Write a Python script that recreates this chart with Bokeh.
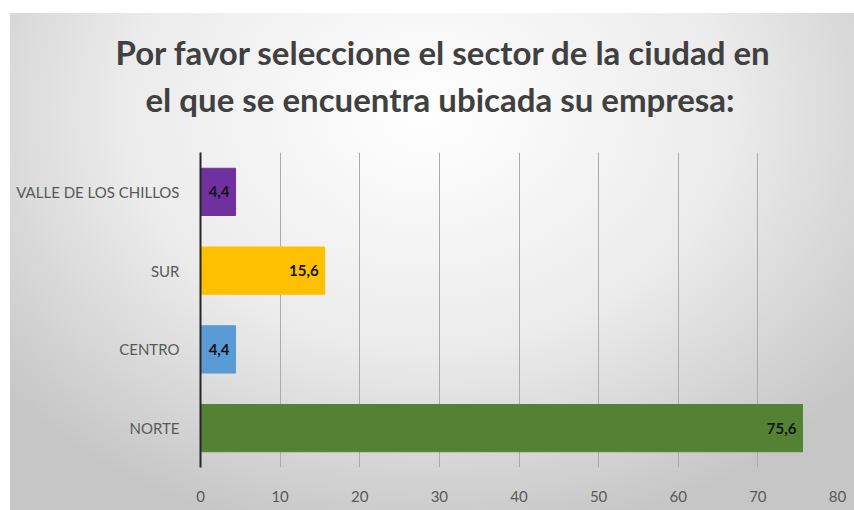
from bokeh.plotting import figure
from bokeh.models import ColumnDataSource, Range1d, FactorRange, FixedTicker, Title
from bokeh.core.properties import value
from bokeh.embed import file_html
from bokeh.resources import INLINE

categories = ["NORTE", "CENTRO", "SUR", "VALLE DE LOS CHILLOS"]
values = [75.6, 4.4, 15.6, 4.4]
colors = ["#548235", "#5B9BD5", "#FFC000", "#7030A0"]
x_ticks = [0, 10, 20, 30, 40, 50, 60, 70, 80]
title_line1 = "Por favor seleccione el sector de la ciudad en"
title_line2 = "el que se encuentra ubicada su empresa:"

labels = [f"{v:.1f}".replace(".", ",") for v in values]
src = ColumnDataSource(dict(cat=categories, val=values, color=colors, label=labels))

p = figure(width=854, height=510, output_backend="svg", toolbar_location=None,
           y_range=FactorRange(*categories, range_padding=0),
           x_range=Range1d(0, 80),
           min_border_left=200, min_border_right=17, min_border_bottom=43, min_border_top=152)

p.hbar(y="cat", right="val", left=0, height=0.6, color="color", source=src)
p.text(x="val", y="cat", text="label", source=src, x_offset=-6,
       text_align="right", text_baseline="middle",
       text_font=value("Lato"), text_font_style="bold", text_font_size="15px",
       text_color="#141414")

title_style = dict(align="left", text_font="Lato", text_font_style="bold",
                   text_font_size="33px", text_color="#404040")
try:
    t1 = Title(text=title_line1, standoff=-57, offset=-85, **title_style)
    s2 = 67
except Exception:
    t1 = Title(text=title_line1, standoff=0, offset=-85, **title_style)
    s2 = 52
p.title = t1
p.add_layout(Title(text=title_line2, standoff=s2, offset=-55, **title_style), "above")

p.background_fill_color = None
p.border_fill_color = None
p.outline_line_color = None
p.styles = {"background": (
    "linear-gradient(#ffffff, #ffffff) top left / 100% 13px no-repeat, "
    "linear-gradient(#ffffff, #ffffff) top left / 10px 100% no-repeat, "
    "radial-gradient(ellipse 65% 85% at 50% 22%, #ffffff 0%, #ebebeb 55%, #c6c6c6 100%)")}

p.xaxis.ticker = FixedTicker(ticks=x_ticks)
p.xaxis.axis_line_color = None
p.xaxis.major_tick_line_color = None
p.xaxis.minor_tick_line_color = None
p.xaxis.major_label_standoff = 17
p.xaxis.major_label_text_font = "Lato"
p.xaxis.major_label_text_font_size = "15px"
p.xaxis.major_label_text_color = "#595959"

p.yaxis.axis_line_color = "#262626"
p.yaxis.axis_line_width = 2
p.yaxis.major_tick_line_color = None
p.yaxis.minor_tick_line_color = None
p.yaxis.major_label_standoff = 15
p.yaxis.major_label_text_font = "Lato"
p.yaxis.major_label_text_font_size = "15px"
p.yaxis.major_label_text_color = "#595959"

p.ygrid.grid_line_color = None
p.xgrid.grid_line_color = "#ababab"
p.xgrid.grid_line_width = 1

open("out.html", "w").write(file_html(p, INLINE))
